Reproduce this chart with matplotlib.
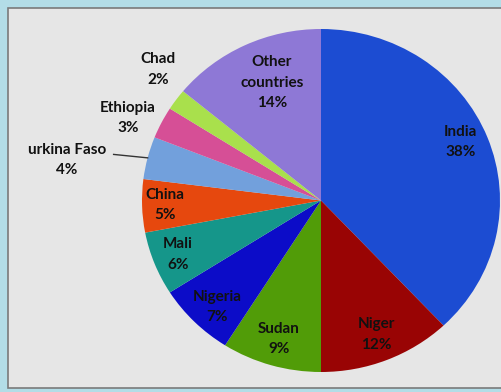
import numpy as np
import matplotlib.pyplot as plt
from matplotlib.patches import Rectangle

# data
countries = ['India', 'Niger', 'Sudan', 'Nigeria', 'Mali', 'China',
             'urkina Faso', 'Ethiopia', 'Chad', 'Other\ncountries']
shares = [38, 12, 9, 7, 6, 5, 4, 3, 2, 14]
colors = ['#1c4cd2', '#990404', '#519c08', '#0c0cc8', '#15968a', '#e6480e',
          '#72a0dc', '#d64f96', '#a9e04c', '#8e78d6']

# label placement (radius as fraction of pie radius, angle nudge in degrees)
label_r = [0.85, 0.84, 0.84, 0.85, 0.86, 0.87, 1.44, 1.18, 1.19, 0.74]
label_da = [2, 0, 0, 2, 0, 0, 5, 3, -4, -3.5]

W, H = 501, 392
fig = plt.figure(figsize=(W / 100, H / 100), dpi=100)
fig.patch.set_facecolor('#b3dde7')

# grey panel with dark rim, behind the axes
fig.patches.append(Rectangle((8 / W, 4 / H), 1.0, (H - 12) / H, transform=fig.transFigure,
                             facecolor='#e6e6e6', edgecolor='#7a7a7a', linewidth=1.2,
                             zorder=-10))

ax = fig.add_axes([0, 0, 1, 1])
wedges, _ = ax.pie(shares, colors=colors, startangle=90, counterclock=False,
                   wedgeprops=dict(linewidth=0))
ax.set_aspect('auto')
# pie centre at (321, 200.5) px, radii 179 px wide, 171.5 px tall
cx, cy, rx, ry = 321, 200.5, 179, 171.5
ax.set_xlim(-cx / rx, (W - cx) / rx)
ax.set_ylim(-(H - cy) / ry, cy / ry)
ax.axis('off')

for w, name, s, r, da in zip(wedges, countries, shares, label_r, label_da):
    ang = np.deg2rad((w.theta1 + w.theta2) / 2 + da)
    x, y = r * np.cos(ang), r * np.sin(ang)
    ax.text(x, y, f'{name}\n{s}%', ha='center', va='center', fontsize=11,
            fontweight='bold', family='Lato', color='#111111', linespacing=1.6)
    if name.startswith('urkina'):
        mid = np.deg2rad((w.theta1 + w.theta2) / 2)
        ex, ey = np.cos(mid), np.sin(mid)
        ax.plot([ex - 0.19, ex], [ey + 0.02, ey], color='#333333', lw=1)

fig.savefig('out.png', dpi=100, facecolor=fig.get_facecolor())
